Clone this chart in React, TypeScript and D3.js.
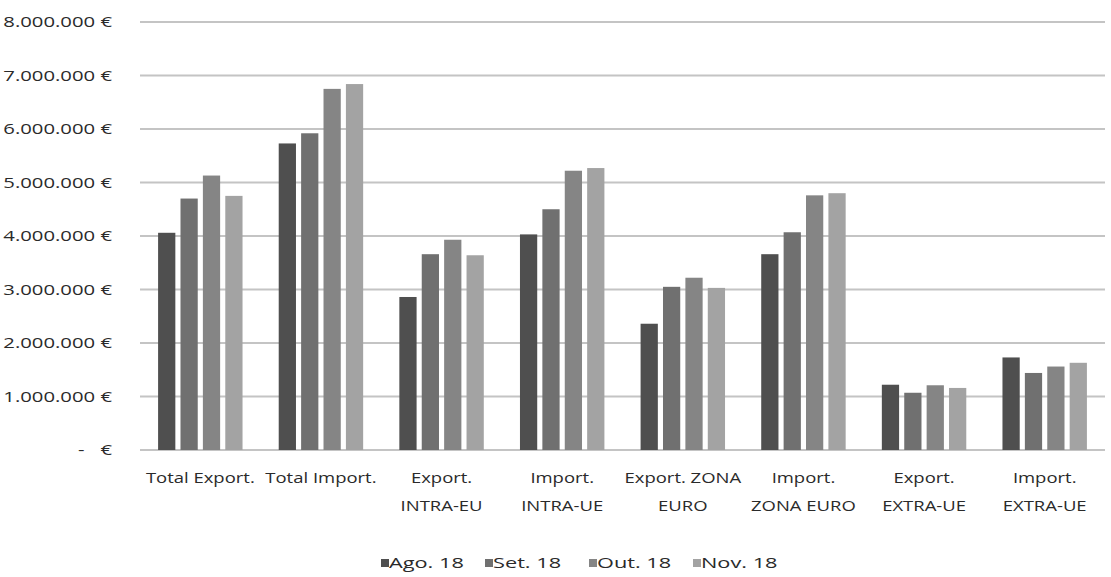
import React, { useEffect, useRef } from "react";
import * as d3 from "d3";

// Categories (label lines separated by "|")
const categories = [
  "Total Export.",
  "Total Import.",
  "Export.|INTRA-EU",
  "Import.|INTRA-UE",
  "Export. ZONA|EURO",
  "Import.|ZONA EURO",
  "Export.|EXTRA-UE",
  "Import.|EXTRA-UE",
];

const seriesNames = ["Ago. 18", "Set. 18", "Out. 18", "Nov. 18"];

// Values in euros, one array per month, in category order
const ago18 = [4060000, 5730000, 2860000, 4030000, 2360000, 3660000, 1220000, 1730000];
const set18 = [4700000, 5920000, 3660000, 4500000, 3050000, 4070000, 1070000, 1440000];
const out18 = [5130000, 6750000, 3930000, 5220000, 3220000, 4760000, 1210000, 1560000];
const nov18 = [4750000, 6840000, 3640000, 5270000, 3030000, 4800000, 1160000, 1630000];

const yTicks = [0, 1000000, 2000000, 3000000, 4000000, 5000000, 6000000, 7000000, 8000000];

const seriesColors = ["#4f4f4f", "#707070", "#858585", "#a3a3a3"];

const W = 1111;
const H = 577;
const FONT = "'Open Sans', 'Noto Sans', sans-serif";
const TEXT = "#2a2a2a";

export default function App() {
  const ref = useRef<SVGSVGElement | null>(null);

  useEffect(() => {
    const svg = d3.select(ref.current);
    svg.selectAll("*").remove();

    const series = [ago18, set18, out18, nov18];
    const left = 140;
    const right = 1105;
    const top = 22;
    const bottom = 450;

    const x = d3.scaleBand<string>().domain(categories).range([left, right]).paddingInner(0.3).paddingOuter(0.15);
    const xs = d3.scaleBand<string>().domain(seriesNames).range([0, x.bandwidth()]).paddingInner(0.23);
    const y = d3.scaleLinear().domain([0, 8000000]).range([bottom, top]);

    const fmt = (v: number) =>
      v === 0 ? "-   €" : d3.format(",")(v).replace(/,/g, ".") + " €";

    // gridlines
    svg
      .append("g")
      .selectAll("line")
      .data(yTicks)
      .join("line")
      .attr("x1", left)
      .attr("x2", right)
      .attr("y1", (d) => y(d))
      .attr("y2", (d) => y(d))
      .attr("stroke", "#c4c4c4")
      .attr("stroke-width", 1.8);

    // y tick labels
    svg
      .append("g")
      .selectAll("text")
      .data(yTicks)
      .join("text")
      .attr("transform", (d) => `translate(112,${y(d)}) scale(1.4,1)`)
      .attr("text-anchor", "end")
      .attr("dy", "0.35em")
      .attr("font-family", FONT)
      .attr("font-size", 14.5)
      .attr("fill", TEXT)
      .style("white-space", "pre")
      .text((d) => fmt(d));

    // bars
    const groups = svg
      .append("g")
      .selectAll("g")
      .data(categories)
      .join("g")
      .attr("transform", (c) => `translate(${x(c)},0)`);

    groups
      .selectAll("rect")
      .data((c) => {
        const i = categories.indexOf(c);
        return seriesNames.map((s, k) => ({ s, k, v: series[k][i] }));
      })
      .join("rect")
      .attr("x", (d) => xs(d.s)!)
      .attr("width", xs.bandwidth())
      .attr("y", (d) => y(d.v))
      .attr("height", (d) => y(0) - y(d.v))
      .attr("fill", (d) => seriesColors[d.k]);

    // category labels (one tspan per line)
    const labels = svg
      .append("g")
      .selectAll("text")
      .data(categories)
      .join("text")
      .attr("transform", (c) => `translate(${x(c)! + x.bandwidth() / 2},478) scale(1.32,1)`)
      .attr("text-anchor", "middle")
      .attr("font-family", FONT)
      .attr("font-size", 14)
      .attr("fill", TEXT);
    labels
      .selectAll("tspan")
      .data((c) => c.split("|"))
      .join("tspan")
      .attr("x", 0)
      .attr("y", (_, i) => i * 28)
      .attr("dy", "0.35em")
      .text((d) => d);

    // legend
    const legend = svg
      .append("g")
      .attr("transform", "translate(381,563)")
      .selectAll("g")
      .data(seriesNames)
      .join("g")
      .attr("transform", (_, i) => `translate(${i * 104},0)`);
    legend
      .append("rect")
      .attr("x", 0)
      .attr("y", -4)
      .attr("width", 8)
      .attr("height", 8)
      .attr("fill", (_, i) => seriesColors[i]);
    legend
      .append("text")
      .attr("transform", `translate(8,0) scale(1.45,1)`)
      .attr("dy", "0.35em")
      .attr("font-family", FONT)
      .attr("font-size", 15)
      .attr("fill", TEXT)
      .text((d) => d);
  }, []);

  return (
    <svg
      ref={ref}
      width={W}
      height={H}
      style={{ position: "absolute", left: 0, top: 0, background: "#fff" }}
    />
  );
}
